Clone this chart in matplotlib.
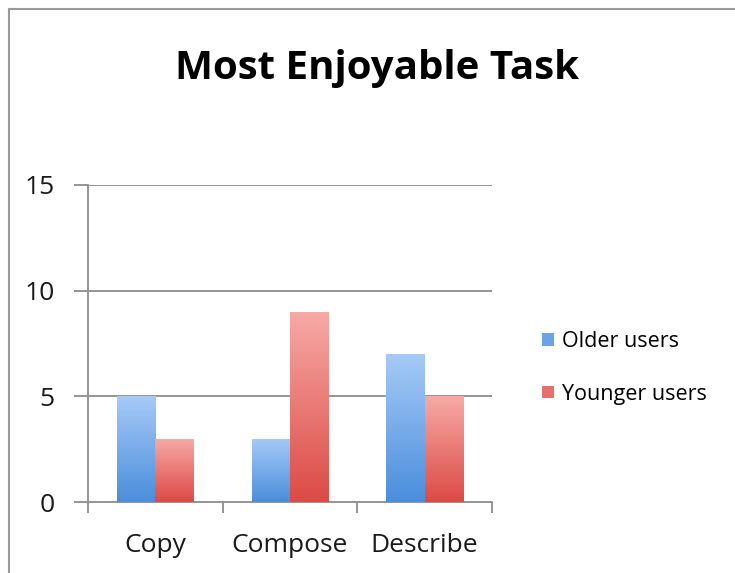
import numpy as np
import matplotlib.pyplot as plt
from matplotlib.colors import LinearSegmentedColormap
from matplotlib.lines import Line2D
from matplotlib.patches import Patch

categories = ["Copy", "Compose", "Describe"]
series_names = ["Older users", "Younger users"]
older = [5, 3, 7]
younger = [3, 9, 5]
y_ticks = [0, 5, 10, 15]

W, H, DPI = 735, 573, 100
fig = plt.figure(figsize=(W / DPI, H / DPI), dpi=DPI)
fig.patch.set_facecolor("white")

FONT = "Open Sans"
TXT = "#1a1a1a"

def fx(px):
    return px / W

def fy(py):
    return 1 - py / H

# chart frame (top and left edges)
fig.add_artist(Line2D([fx(9), 1.0], [fy(9), fy(9)], color="#9a9a9a", lw=1.5))
fig.add_artist(Line2D([fx(9), fx(9)], [fy(9), 0.0], color="#9a9a9a", lw=1.5))

# plot area
x0, x1 = 88, 492
ytop, ybot = 185, 502
ax = fig.add_axes([fx(x0), fy(ybot), fx(x1) - fx(x0), (ybot - ytop) / H])

n = len(categories)
x = np.arange(n)
bw = 0.285

blue_cmap = LinearSegmentedColormap.from_list("b", ["#4a8edb", "#a6caf7"])
red_cmap = LinearSegmentedColormap.from_list("r", ["#dc4a45", "#f7aaa6"])

bars_o = ax.bar(x - bw / 2, older, bw, color="none", zorder=3)
bars_y = ax.bar(x + bw / 2, younger, bw, color="none", zorder=3)

# vertical gradient fill for each bar, dark at the base and light at the top
grad = np.linspace(0, 1, 256).reshape(-1, 1)
for bars, cmap in ((bars_o, blue_cmap), (bars_y, red_cmap)):
    for p in bars:
        bx = p.get_x()
        w, h = p.get_width(), p.get_height()
        im = ax.imshow(grad, cmap=cmap, origin="lower", aspect="auto",
                       extent=[bx, bx + w, 0, h], zorder=3,
                       interpolation="bilinear")
        im.set_clip_path(p)

ax.set_xlim(-0.5, n - 0.5)
ax.set_ylim(0, 15)

# gridlines
for t in y_ticks[1:]:
    ax.axhline(t, color="#8c8c8c", lw=1.3, zorder=1)

for s in ["top", "right"]:
    ax.spines[s].set_visible(False)
for s in ["left", "bottom"]:
    ax.spines[s].set_color("#8c8c8c")
    ax.spines[s].set_linewidth(1.3)

ax.set_yticks(y_ticks)
ax.set_yticklabels([str(t) for t in y_ticks], fontsize=19, family=FONT,
                   color=TXT)
ax.tick_params(axis="y", length=10, width=1.3, color="#8c8c8c", pad=14)

# category boundary ticks
ax.set_xticks(np.arange(n + 1) - 0.5)
ax.set_xticklabels([""] * (n + 1))
ax.tick_params(axis="x", length=8, width=1.3, color="#8c8c8c")
for xi, lab in zip(x, categories):
    ax.annotate(lab, xy=(xi, 0), xycoords=("data", "axes fraction"),
                xytext=(0, -44), textcoords="offset pixels",
                ha="center", va="center", fontsize=19, family=FONT,
                color=TXT)

# title
fig.text(fx(377), fy(69), "Most Enjoyable Task", ha="center", va="center",
         fontsize=29, fontweight="bold", family=FONT, color="black")

# legend
handles = [Patch(facecolor="#6aa4e8", edgecolor="none"),
           Patch(facecolor="#e8706c", edgecolor="none")]
fig.legend(handles, series_names, loc="center left",
           bbox_to_anchor=(fx(523), fy(368)), frameon=False,
           prop={"family": FONT, "size": 15.5}, handlelength=0.55,
           handleheight=0.55, handletextpad=0.35, labelspacing=1.45)

fig.savefig("out.png", dpi=DPI)
